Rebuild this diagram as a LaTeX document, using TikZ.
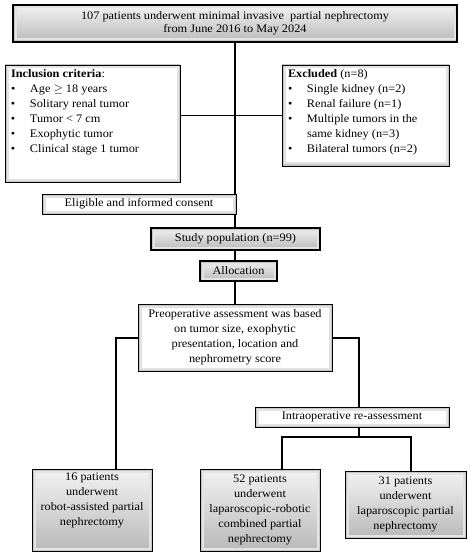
\documentclass[tikz,border=0pt]{standalone}
\usepackage{fontspec}
\setmainfont[FakeStretch=1.07]{Liberation Serif}
\usetikzlibrary{backgrounds}

\newcommand\critem{\makebox[19pt][l]{\textbullet}}

\tikzset{
  glow/.style={path picture={
      \draw[gray!22, line width=7pt] (path picture bounding box.south west) rectangle (path picture bounding box.north east);
      \draw[gray!45, line width=3pt] (path picture bounding box.south west) rectangle (path picture bounding box.north east);}},
  plain/.style={draw, fill=white, line width=.7pt, glow},
  grey/.style={draw, line width=.9pt, top color=gray!10, bottom color=gray!55, glow},
  link/.style={line width=2pt},
  thin link/.style={line width=.8pt}
}

\begin{document}
\begin{tikzpicture}[x=1pt,y=1pt,
    every node/.style={font=\fontsize{11.5}{15}\selectfont, align=center, inner sep=2pt}]

  \useasboundingbox (0,0) rectangle (470,-556);

  % enrolment
  \node[grey, line width=2.4pt, minimum width=444, minimum height=37,
        font=\fontsize{11.5}{12.7}\selectfont] (top) at (235,-23.5)
        {107 patients underwent minimal invasive\ \ partial nephrectomy\\from June 2016 to May 2024};

  \node[plain, minimum width=175, minimum height=117, inner sep=0pt] (incl) at (92.5,-123.5)
        {\parbox[t][107pt][t]{163pt}{\raggedright
          \textbf{Inclusion criteria}:\\
          \critem Age $\geq$ 18 years\\
          \critem Solitary renal tumor\\
          \critem Tumor < 7 cm\\
          \critem Exophytic tumor\\
          \critem Clinical stage 1 tumor}};

  \node[plain, minimum width=167, minimum height=101, inner sep=0pt] (excl) at (365.5,-115.5)
        {\parbox[t][91pt][t]{155pt}{\raggedright
          \textbf{Excluded} (n=8)\\
          \critem Single kidney (n=2)\\
          \critem Renal failure (n=1)\\
          \critem Multiple tumors in the\\
          \hspace*{19pt}same kidney (n=3)\\
          \critem Bilateral tumors (n=2)}};

  \node[plain, minimum width=194, minimum height=20] (elig) at (139,-204)
        {Eligible and informed consent};
  \node[grey, line width=2.2pt, minimum width=169, minimum height=22] (study) at (235.5,-239)
        {Study population (n=99)};
  \node[grey, line width=1.4pt, minimum width=77, minimum height=20] (alloc) at (238.5,-271)
        {Allocation};

  % assessment
  \node[plain, minimum width=194, minimum height=67] (preop) at (235,-337.5)
        {Preoperative assessment was based\\on tumor size, exophytic\\presentation, location and\\nephrometry score};
  \node[plain, minimum width=194, minimum height=20] (intra) at (352,-417)
        {Intraoperative re-assessment};

  % groups
  \node[grey, minimum width=120, minimum height=82] (robot) at (92,-510)
        {16 patients\\underwent\\robot-assisted partial\\nephrectomy\\[6pt]};
  \node[grey, minimum width=120, minimum height=82] (combo) at (260,-510)
        {52 patients\\underwent\\laparoscopic-robotic\\combined partial\\nephrectomy};
  \node[grey, minimum width=121, minimum height=67] (lapa) at (405.5,-504.5)
        {31 patients\\underwent\\laparoscopic partial\\nephrectomy};

  \begin{scope}[on background layer]
    \draw[link] (top.south) -- (preop.north);
    \draw[thin link] (excl.west -| incl.east) -- (excl.west);
  \end{scope}

  \draw[link] (preop.west) -| ([xshift=24pt]robot.north);
  \draw[link] (preop.east) -| ([xshift=7pt]intra.north);
  \draw[link] ([xshift=7pt]intra.south) -- ++(0,-10) coordinate (fork);
  \draw[link] ([xshift=22pt]combo.north) |- (fork) -| ([xshift=5.5pt]lapa.north);

\end{tikzpicture}
\end{document}
